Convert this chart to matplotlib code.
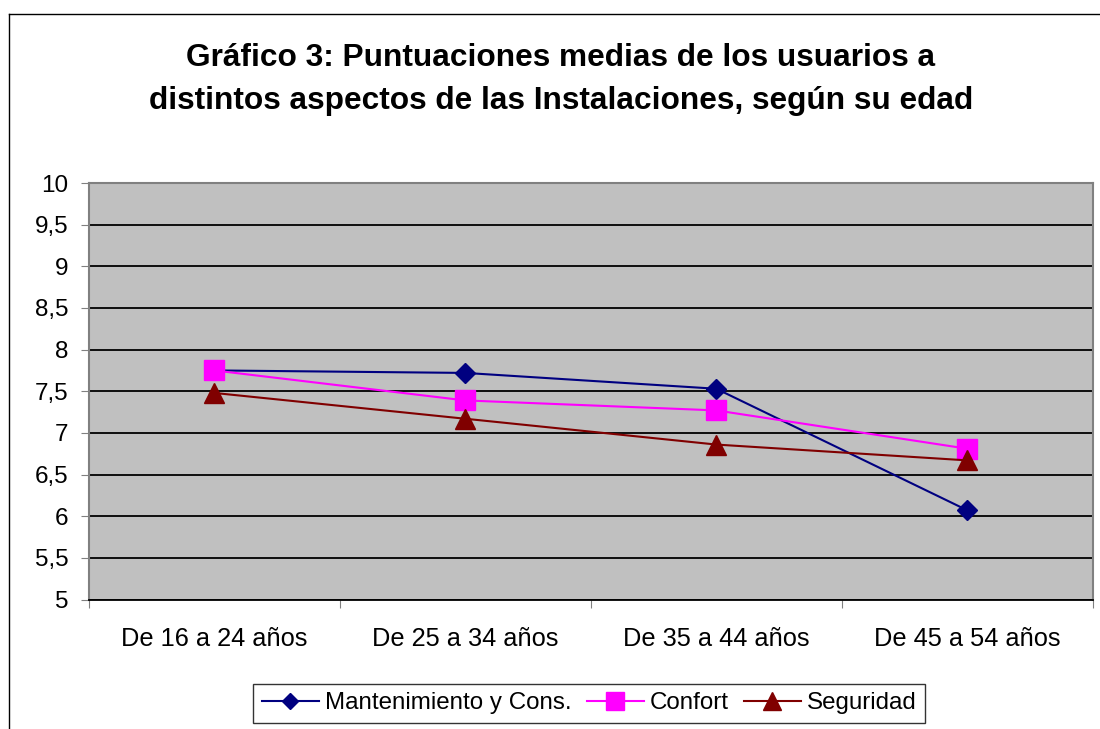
import numpy as np
import matplotlib.pyplot as plt
from matplotlib.lines import Line2D

plt.rcParams['font.family'] = ['Liberation Sans', 'DejaVu Sans']

# data
categorias = ["De 16 a 24 años", "De 25 a 34 años", "De 35 a 44 años", "De 45 a 54 años"]
mantenimiento = [7.75, 7.72, 7.53, 6.07]
confort = [7.75, 7.39, 7.27, 6.81]
seguridad = [7.48, 7.17, 6.86, 6.67]
y_ticks = [5, 5.5, 6, 6.5, 7, 7.5, 8, 8.5, 9, 9.5, 10]
y_labels = ["5", "5,5", "6", "6,5", "7", "7,5", "8", "8,5", "9", "9,5", "10"]
titulo_1 = "Gráfico 3: Puntuaciones medias de los usuarios a"
titulo_2 = "distintos aspectos de las Instalaciones, según su edad"

W, H = 1100, 729
fig = plt.figure(figsize=(11, 7.29), dpi=100)
ax = fig.add_axes([88.5 / W, 1 - 599.5 / H, (1093 - 88.5) / W, (599.5 - 183) / H])
ax.set_facecolor('#C0C0C0')

x = np.arange(len(categorias))
ax.plot(x, mantenimiento, color='#000080', lw=1.5, marker='D', ms=10.5,
        label='Mantenimiento y Cons.')
ax.plot(x, confort, color='#FF00FF', lw=1.5, marker='s', ms=15,
        label='Confort')
ax.plot(x, seguridad, color='#800000', lw=1.5, marker='^', ms=15,
        label='Seguridad')

ax.set_xlim(-0.5, 3.5)
ax.set_ylim(5, 10)
ax.set_yticks(y_ticks)
ax.set_yticklabels(y_labels, fontsize=17.5)
ax.set_xticks(np.arange(-0.5, 4, 1))
ax.set_xticklabels([])
ax.set_xticks(x, minor=True)
ax.set_xticklabels(categorias, minor=True, fontsize=18.3)
ax.tick_params(axis='x', which='minor', length=0, pad=19.5)
ax.tick_params(axis='x', which='major', length=5.5, color='#808080')
ax.tick_params(axis='y', length=5.8, color='#808080', pad=8.6)
ax.grid(axis='y', color='black', lw=1.3)
ax.set_axisbelow(True)
for s in ['top', 'right', 'left']:
    ax.spines[s].set_color('#808080')
    ax.spines[s].set_linewidth(1.5)
ax.spines['bottom'].set_color('black')
ax.spines['bottom'].set_linewidth(1.3)

# title, two lines placed on their baselines
fig.text(561 / W, 1 - 66 / H, titulo_1, ha='center', va='baseline',
         fontsize=22.8, fontweight='bold')
fig.text(561 / W, 1 - 109 / H, titulo_2, ha='center', va='baseline',
         fontsize=22.8, fontweight='bold')

# outer chart frame (runs off the image on right and bottom)
fig.add_artist(Line2D([9 / W, 9 / W], [1 - 14 / H, -0.1],
                      transform=fig.transFigure, color='black', lw=1))
fig.add_artist(Line2D([9 / W, 1.1], [1 - 14 / H, 1 - 14 / H],
                      transform=fig.transFigure, color='black', lw=1))

leg = fig.legend(loc='upper left', bbox_to_anchor=(253.5 / W, 1 - 684 / H),
                 ncol=3, frameon=True, fontsize=17.4, fancybox=False,
                 handlelength=2.36, columnspacing=0.62, handletextpad=0.25,
                 borderpad=0.35, markerscale=0.82, borderaxespad=0)
leg.get_frame().set_edgecolor('black')
leg.get_frame().set_linewidth(1)

fig.savefig('out.png', dpi=100)
